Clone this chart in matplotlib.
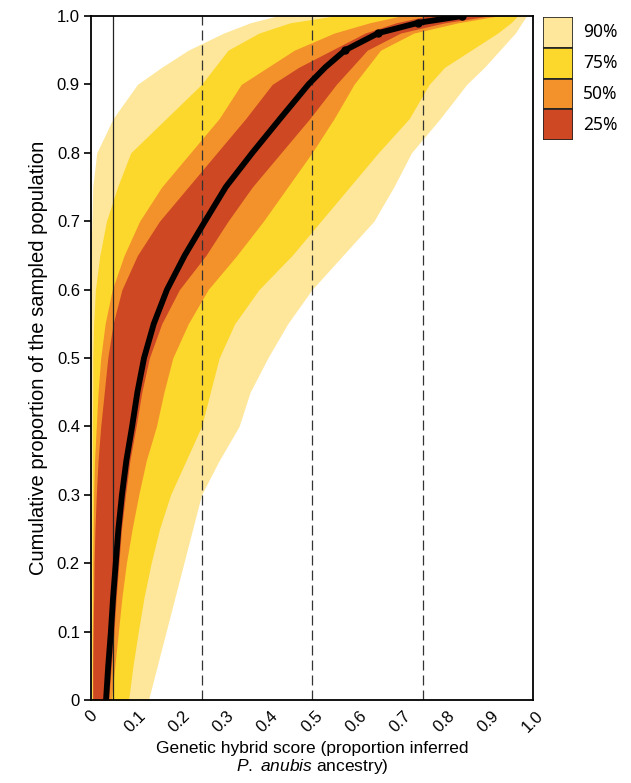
import numpy as np
import matplotlib
matplotlib.use("Agg")
import matplotlib.pyplot as plt

plt.rcParams['font.family'] = ['Liberation Sans', 'DejaVu Sans']
plt.rcParams['mathtext.fontset'] = 'custom'
plt.rcParams['mathtext.it'] = 'Liberation Sans:italic'
plt.rcParams['mathtext.rm'] = 'Liberation Sans'

# -----------------------------
# Data
# -----------------------------
cum_prop = [0.0, 0.05, 0.10, 0.15, 0.20, 0.25, 0.30, 0.35, 0.40, 0.45, 0.50, 0.55,
            0.60, 0.65, 0.70, 0.75, 0.80, 0.85, 0.90, 0.925, 0.95, 0.975, 0.99, 1.0]

median = [0.034, 0.039, 0.045, 0.050, 0.056, 0.062, 0.070, 0.080, 0.093, 0.105, 0.120, 0.142,
          0.172, 0.212, 0.258, 0.305, 0.365, 0.428, 0.492, 0.530, 0.575, 0.650, 0.740, 0.840]

# 25% interval
lo25 = [0.004, 0.004, 0.005, 0.006, 0.007, 0.009, 0.012, 0.016, 0.022, 0.030, 0.038, 0.050,
        0.070, 0.105, 0.155, 0.220, 0.285, 0.350, 0.410, 0.470, 0.545, 0.620, 0.690, 0.760]
hi25 = [0.040, 0.046, 0.052, 0.057, 0.063, 0.069, 0.078, 0.088, 0.102, 0.115, 0.132, 0.160,
        0.200, 0.260, 0.310, 0.365, 0.430, 0.495, 0.555, 0.590, 0.625, 0.700, 0.800, 0.900]
# 50% interval
lo50 = [0.003, 0.003, 0.003, 0.004, 0.004, 0.005, 0.006, 0.008, 0.012, 0.016, 0.022, 0.032,
        0.048, 0.075, 0.110, 0.160, 0.225, 0.290, 0.340, 0.400, 0.460, 0.550, 0.630, 0.700]
hi50 = [0.046, 0.054, 0.062, 0.070, 0.080, 0.093, 0.108, 0.125, 0.148, 0.165, 0.185, 0.220,
        0.265, 0.330, 0.390, 0.445, 0.500, 0.550, 0.595, 0.625, 0.655, 0.730, 0.830, 0.920]
# 75% interval
lo75 = [0.002, 0.002, 0.002, 0.002, 0.002, 0.002, 0.003, 0.003, 0.003, 0.004, 0.004, 0.006,
        0.010, 0.020, 0.035, 0.060, 0.090, 0.170, 0.250, 0.280, 0.310, 0.380, 0.450, 0.550]
hi75 = [0.085, 0.095, 0.107, 0.120, 0.136, 0.155, 0.180, 0.215, 0.250, 0.270, 0.290, 0.325,
        0.380, 0.455, 0.520, 0.585, 0.650, 0.720, 0.765, 0.800, 0.860, 0.920, 0.950, 0.965]
# 90% interval
lo90 = [0.0, 0.0, 0.0, 0.0, 0.0, 0.0, 0.0, 0.0, 0.0, 0.0, 0.0, 0.0,
        0.0, 0.0, 0.002, 0.004, 0.013, 0.050, 0.105, 0.160, 0.220, 0.300, 0.360, 0.420]
hi90 = [0.130, 0.150, 0.170, 0.190, 0.210, 0.230, 0.250, 0.290, 0.335, 0.360, 0.400, 0.445,
        0.500, 0.570, 0.640, 0.685, 0.725, 0.790, 0.850, 0.890, 0.925, 0.960, 0.975, 0.985]

band_labels = ['90%', '75%', '50%', '25%']
band_colors = ['#FEE79A', '#FCD72C', '#F3922A', '#CD4823']

ref_solid = 0.05
ref_dashed = [0.25, 0.5, 0.75]

ticks = [0, 0.1, 0.2, 0.3, 0.4, 0.5, 0.6, 0.7, 0.8, 0.9, 1.0]
tick_labels = ['0', '0.1', '0.2', '0.3', '0.4', '0.5', '0.6', '0.7', '0.8', '0.9', '1.0']

# -----------------------------
# Plot
# -----------------------------
fig = plt.figure(figsize=(6.31, 7.83), dpi=100)
ax = fig.add_axes([91/631, 1 - 700/783, 442/631, 684/783])

bands = [(lo90, hi90), (lo75, hi75), (lo50, hi50), (lo25, hi25)]
for (lo, hi), col in zip(bands, band_colors):
    ax.fill_betweenx(cum_prop, lo, hi, color=col, lw=0, zorder=1)

ax.axvline(ref_solid, color='#222222', lw=0.9, zorder=2)
for xv in ref_dashed:
    ax.axvline(xv, color='#333333', lw=0.9, ls=(0, (8, 4)), zorder=2)

ax.plot(median, cum_prop, color='black', lw=4.2, solid_capstyle='round', zorder=3)
top = np.array(cum_prop) >= 0.95
ax.plot(np.array(median)[top], np.array(cum_prop)[top], 'o', color='black', ms=5, zorder=3)

ax.set_xlim(0, 1)
ax.set_ylim(0, 1)
ax.set_yticks(ticks)
ax.set_yticklabels(tick_labels, fontsize=12)
ax.set_xticks(ticks)
ax.set_xticklabels(tick_labels, fontsize=12, rotation=45, ha='center', va='top')
ax.tick_params(axis='y', direction='out', length=5, width=1.2, pad=3)
ax.tick_params(axis='x', length=0, pad=6)
for sp in ax.spines.values():
    sp.set_linewidth(1.3)

ax.set_ylabel('Cumulative proportion of the sampled population', fontsize=14.5, labelpad=6)
ax.set_xlabel('Genetic hybrid score (proportion inferred\n$\\mathit{P.\\ anubis}$ ancestry)',
              fontsize=12.5, labelpad=4, linespacing=1.1)

# legend as a column of colour boxes
lax = fig.add_axes([543/631, 1 - 140/783, 30/631, 123/783])
pos = np.arange(len(band_labels))[::-1]
lax.bar(np.zeros(len(band_labels)), np.ones(len(band_labels)), bottom=pos, width=1,
        color=band_colors, edgecolor='#222222', linewidth=1.2, align='center')
for p, lab in zip(pos, band_labels):
    lax.text(0.83, p + 0.5, lab, fontsize=12.5, va='center', ha='left',
             family=['Noto Sans', 'DejaVu Sans'])
lax.set_xlim(-0.5, 0.5)
lax.set_ylim(0, len(band_labels))
lax.axis('off')

fig.savefig('out.png', dpi=100)
